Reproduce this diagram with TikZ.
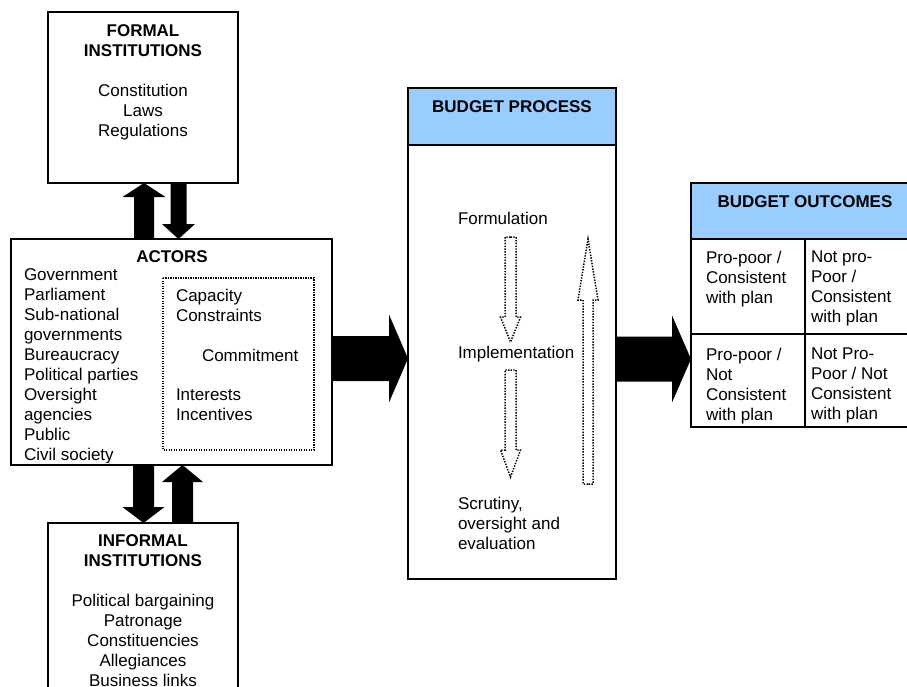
\documentclass[tikz,border=0pt]{standalone}
\usepackage{fontspec}
\setmainfont{Liberation Sans}
\usetikzlibrary{calc}
\definecolor{headblue}{RGB}{153,204,255}
\tikzset{
  box/.style={draw, line width=1.6pt, inner sep=0pt, outer sep=0pt, anchor=north west},
  headbox/.style={box, fill=headblue},
  txt/.style={inner sep=0pt, outer sep=0pt, font=\fontsize{17}{20}\selectfont, align=left, anchor=north west},
  ttl/.style={inner sep=0pt, outer sep=0pt, font=\fontsize{17}{20}\selectfont, align=center, anchor=north},
  dotline/.style={line width=1.5pt, dash pattern=on 1.4pt off 1.4pt},
  % block arrow: shaft half width, head half width, head length
  blockarrow/.style n args={3}{to path={
    -- ($(\tikztostart)!#1!90:(\tikztotarget)$)
    -- ($($(\tikztotarget)!#3!(\tikztostart)$)!#1!90:(\tikztotarget)$)
    -- ($($(\tikztotarget)!#3!(\tikztostart)$)!#2!90:(\tikztotarget)$)
    -- (\tikztotarget)
    -- ($($(\tikztotarget)!#3!(\tikztostart)$)!#2!-90:(\tikztotarget)$)
    -- ($($(\tikztotarget)!#3!(\tikztostart)$)!#1!-90:(\tikztotarget)$)
    -- ($(\tikztostart)!#1!-90:(\tikztotarget)$)
    -- cycle}},
  solid arrow/.style={fill=black}
}
\begin{document}
\begin{tikzpicture}[x=1pt,y=-1pt]
\useasboundingbox (0,0) rectangle (907,686);
\clip (0,0) rectangle (907,686);

% ---------- institutions and actors ----------
\node[box, minimum width=190pt, minimum height=171pt] (formal) at (48,12) {};
\node[ttl] (formaltxt) at (143,24.9)
  {\textbf{FORMAL}\\\textbf{INSTITUTIONS}\\[20pt]Constitution\\Laws\\Regulations};

\node[box, minimum width=321pt, minimum height=226pt] (actors) at (11,239) {};
\node[ttl] (actorsttl) at (172,251) {\textbf{ACTORS}};
\begin{scope}
  \clip (12,240) rectangle (331,462);
  \node[txt] (actorlist) at (24,268.9)
    {Government\\Parliament\\Sub-national\\governments\\Bureaucracy\\Political parties\\Oversight\\agencies\\Public\\Civil society};
\end{scope}
\draw[dotline, line width=1.2pt, dash pattern=on 1.2pt off 1.3pt] (163,278) rectangle (314,450);
\node[txt] (capacity) at (176,288.9) {Capacity\\Constraints};
\node[txt] (commit) at (202,348.9) {Commitment};
\node[txt] (interest) at (176,388.9) {Interests\\Incentives};

\node[box, minimum width=190pt, minimum height=200pt] (informal) at (48,523) {};
\node[ttl] (informaltxt) at (143,534.5)
  {\textbf{INFORMAL}\\\textbf{INSTITUTIONS}\\[20pt]Political bargaining\\Patronage\\Constituencies\\Allegiances\\Business links};

% ---------- budget process ----------
\node[headbox, minimum width=208pt, minimum height=57pt] (prochead) at (408,88) {};
\node[box, minimum width=208pt, minimum height=491pt] (process) at (408,88) {};
\node[ttl] (procttl) at (512,100.9) {\textbf{BUDGET PROCESS}};
\node[txt] (form) at (458,211.9) {Formulation};
\node[txt] (impl) at (458,345.9) {Implementation};
\node[txt] (scrut) at (458,496.9) {Scrutiny,\\oversight and\\evaluation};

\coordinate (d1s) at (510.5,237);
\coordinate (d1e) at (510.5,342);
\coordinate (d2s) at (510.5,370);
\coordinate (d2e) at (510.5,477);
\coordinate (u1s) at (588,484);
\coordinate (u1e) at (588,239);
\draw[dotline, blockarrow={5.5pt}{10pt}{25pt}] (d1s) to (d1e);
\draw[dotline, blockarrow={5.5pt}{10pt}{27pt}] (d2s) to (d2e);
\draw[dotline, blockarrow={5pt}{10pt}{61pt}] (u1s) to (u1e);

% ---------- budget outcomes ----------
\node[headbox, minimum width=234pt, minimum height=56pt] (outhead) at (691,183) {};
\node[box, minimum width=114pt, minimum height=95pt] (c11) at (691,239) {};
\node[box, minimum width=120pt, minimum height=95pt] (c12) at (805,239) {};
\node[box, minimum width=114pt, minimum height=93pt] (c21) at (691,334) {};
\node[box, minimum width=120pt, minimum height=93pt] (c22) at (805,334) {};
\node[ttl] (outttl) at (805,195.9) {\textbf{BUDGET OUTCOMES}};
\node[txt] (t11) at (706,250.9) {Pro-poor /\\Consistent\\with plan};
\node[txt] (t12) at (811,250.9) {Not pro-\\Poor /\\Consistent\\with plan};
\node[txt] (t21) at (706,347.9) {Pro-poor /\\Not\\Consistent\\with plan};
\node[txt] (t22) at (811,347.9) {Not Pro-\\Poor / Not\\Consistent\\with plan};

% ---------- solid block arrows ----------
\fill[solid arrow, blockarrow={10pt}{21.5pt}{14pt}]
  ($(formal.south |- actors.north)+(1,0)$) to ($(formal.south)+(1,0)$);
\fill[solid arrow, blockarrow={8pt}{16.5pt}{15pt}]
  ($(formal.south)+(35.5,0)$) to ($(formal.south |- actors.north)+(35.5,0)$);
\fill[solid arrow, blockarrow={10.5pt}{21pt}{16pt}]
  ($(informal.north |- actors.south)+(0.5,0)$) to ($(informal.north)+(0.5,0)$);
\fill[solid arrow, blockarrow={10.5pt}{20.5pt}{17pt}]
  ($(informal.north)+(39.5,0)$) to ($(informal.north |- actors.south)+(39.5,0)$);
\fill[solid arrow, blockarrow={22.5pt}{44pt}{19pt}]
  ($(actors.east)+(0,6.5)$) to ($(actors.east -| process.west)+(0,6.5)$);
\fill[solid arrow, blockarrow={22.5pt}{43.5pt}{19pt}]
  ($(process.east)+(0,25.5)$) to ($(process.east -| outhead.west)+(0,25.5)$);
\end{tikzpicture}
\end{document}
